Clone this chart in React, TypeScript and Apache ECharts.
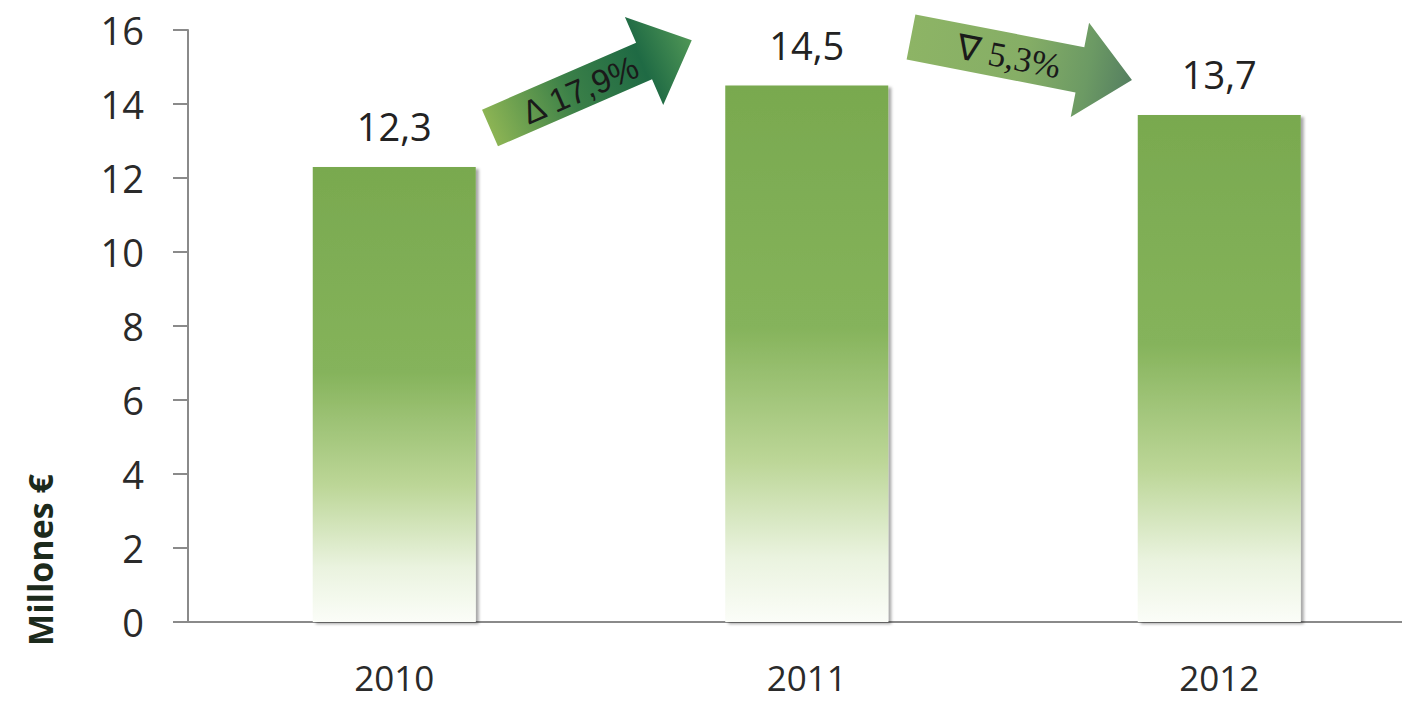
import React, { useEffect, useRef } from "react";
import * as echarts from "echarts";

const categories = ["2010", "2011", "2012"];
const values = [12.3, 14.5, 13.7];
const changeLabels = ["Δ 17,9%", "∇ 5,3%"];
const yMin = 0;
const yMax = 16;
const yInterval = 2;
const yAxisName = "Millones €";

const FONT = "'Open Sans', 'Liberation Sans', sans-serif";

export default function App() {
  const ref = useRef<HTMLDivElement>(null);

  useEffect(() => {
    if (!ref.current) return;
    const chart = echarts.init(ref.current, undefined, { renderer: "svg" });

    const barGradient = new echarts.graphic.LinearGradient(0, 0, 0, 1, [
      { offset: 0, color: "#79a94f" },
      { offset: 0.45, color: "#85b35b" },
      { offset: 0.7, color: "#bcd697" },
      { offset: 0.88, color: "#eaf3df" },
      { offset: 1, color: "#fbfdf8" },
    ]);

    const arrow1Fill = new echarts.graphic.LinearGradient(0, 0, 1, 0, [
      { offset: 0, color: "#8cb454" },
      { offset: 0.4, color: "#3b8048" },
      { offset: 0.75, color: "#1f6a44" },
      { offset: 1, color: "#4f9656" },
    ]);
    const arrow2Fill = new echarts.graphic.LinearGradient(0, 0, 1, 0, [
      { offset: 0, color: "#8db465" },
      { offset: 0.5, color: "#86ae66" },
      { offset: 0.8, color: "#6c9a64" },
      { offset: 1, color: "#557f60" },
    ]);

    const option: any = {
      animation: false,
      grid: {
        left: 188,
        top: 30,
        width: 1237.5,
        bottom: 81,
        containLabel: false,
        outerBoundsMode: "none",
      },
      xAxis: {
        type: "category",
        data: categories,
        axisLine: { show: true, lineStyle: { color: "#8a8a8a", width: 2 } },
        axisTick: { show: false },
        axisLabel: { fontSize: 35, lineHeight: 35, color: "#2a2a2a", fontFamily: FONT, margin: 38 },
      },
      yAxis: {
        type: "value",
        min: yMin,
        max: yMax,
        interval: yInterval,
        axisLine: { show: true, lineStyle: { color: "#8a8a8a", width: 2 } },
        axisTick: { show: true, inside: false, length: 15, lineStyle: { color: "#8a8a8a", width: 2 } },
        splitLine: { show: false },
        axisLabel: { fontSize: 38, color: "#2a2a2a", fontFamily: FONT, margin: 44 },
      },
      series: [
        {
          type: "bar",
          data: values,
          barWidth: 163,
          itemStyle: {
            color: barGradient,
            shadowColor: "rgba(0,0,0,0.35)",
            shadowBlur: 3,
            shadowOffsetX: 3,
            shadowOffsetY: 2,
          },
          label: {
            show: true,
            position: "top",
            distance: 22,
            fontSize: 38,
            color: "#222",
            fontFamily: FONT,
            formatter: (p: any) => String(p.value).replace(".", ","),
          },
        },
      ],
      graphic: [
        {
          type: "text",
          x: 40,
          y: 560,
          rotation: Math.PI / 2,
          style: {
            text: yAxisName,
            fontSize: 34,
            fontWeight: "bold",
            fontFamily: FONT,
            fill: "#1c2a1c",
            align: "center",
            verticalAlign: "middle",
            textAlign: "center",
            textVerticalAlign: "middle",
          },
        },
        {
          type: "group",
          x: 490,
          y: 128,
          rotation: 0.41,
          children: [
            {
              type: "polygon",
              shape: { points: [[0, -20], [168, -20], [168, -48], [220, 0], [168, 48], [168, 20], [0, 20]] },
              style: { fill: arrow1Fill },
            },
            {
              type: "text",
              x: 98,
              y: 1,
              style: {
                text: changeLabels[0],
                fontSize: 33,
                fontFamily: "'Liberation Sans', sans-serif",
                fill: "#1a1a1a",
                align: "center",
                verticalAlign: "middle",
                textAlign: "center",
                textVerticalAlign: "middle",
              },
            },
          ],
        },
        {
          type: "group",
          x: 911,
          y: 37,
          rotation: -0.192,
          children: [
            {
              type: "polygon",
              shape: { points: [[0, -23], [172, -23], [172, -48], [225, 0], [172, 48], [172, 23], [0, 23]] },
              style: { fill: arrow2Fill },
            },
            {
              type: "text",
              x: 100,
              y: 1,
              style: {
                text: changeLabels[1],
                fontSize: 35,
                fontFamily: "'Liberation Serif', serif",
                fill: "#1a1a1a",
                align: "center",
                verticalAlign: "middle",
                textAlign: "center",
                textVerticalAlign: "middle",
              },
            },
          ],
        },
      ],
    };

    chart.setOption(option);
    return () => chart.dispose();
  }, []);

  return (
    <div
      ref={ref}
      style={{ position: "fixed", left: 0, top: 0, width: 1402, height: 703, background: "#fff" }}
    />
  );
}
